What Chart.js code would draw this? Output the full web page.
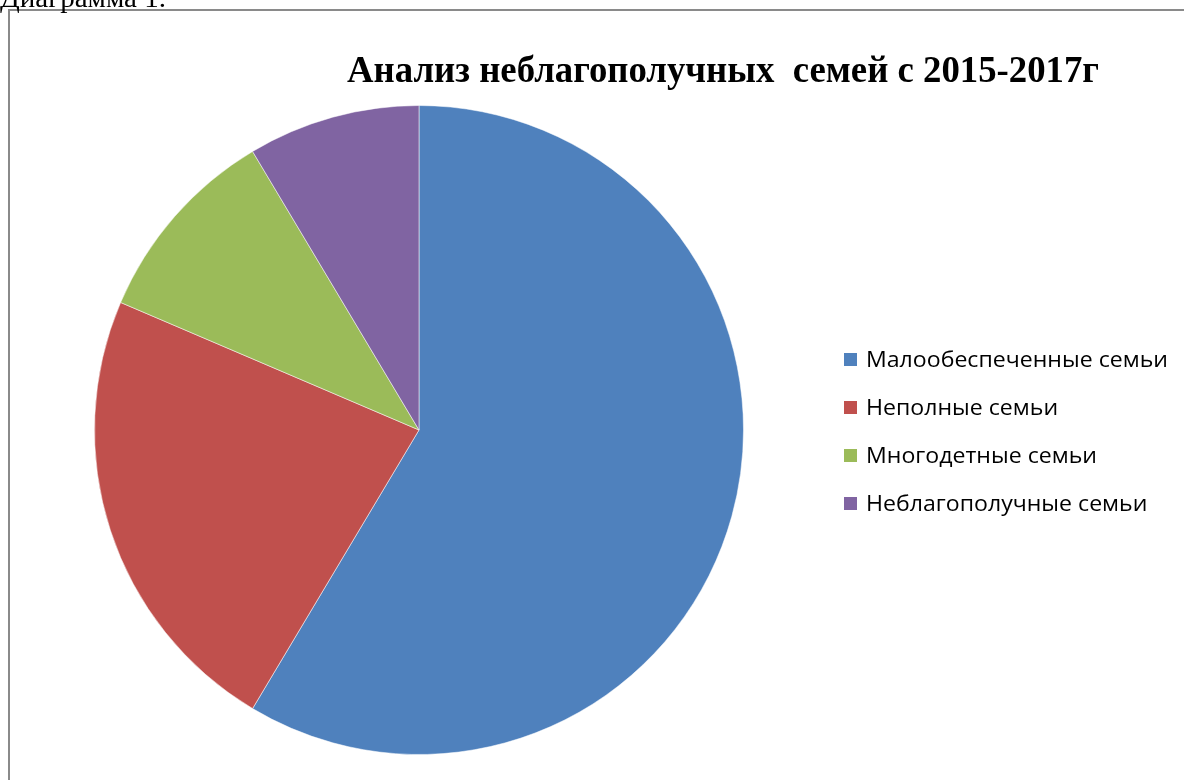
<!DOCTYPE html>
<html><head><meta charset="utf-8">
<script src="https://cdn.jsdelivr.net/npm/chart.js@4"></script>
<style>html,body{margin:0;padding:0;background:#fff;overflow:hidden}
#wrap{position:absolute;left:0;top:0;width:1184px;height:780px}
</style></head><body>
<div id="wrap"><canvas id="c" width="1184" height="780"></canvas></div>
<script>
const categories = ['Малообеспеченные семьи','Неполные семьи','Многодетные семьи','Неблагополучные семьи'];
const values = [41, 16, 7, 6];
const colors = ['#4F81BD','#C0504D','#9BBB59','#8064A2'];
const titleText = 'Анализ неблагополучных  семей с 2015-2017г';
const captionText = 'Диаграмма 1.';

function fitText(ctx, text, x, y, w) {
  const m = ctx.measureText(text).width;
  ctx.save(); ctx.translate(x, y); ctx.scale(w / m, 1); ctx.fillText(text, 0, 0); ctx.restore();
}

const decor = {
  id: 'decor',
  beforeDraw(chart) {
    const ctx = chart.ctx;
    ctx.save();
    ctx.fillStyle = '#fff'; ctx.fillRect(0, 0, chart.width, chart.height);
    ctx.strokeStyle = '#8a8a8a'; ctx.lineWidth = 2;
    ctx.beginPath(); ctx.moveTo(9, 800); ctx.lineTo(9, 10); ctx.lineTo(1200, 10); ctx.stroke();
    ctx.fillStyle = '#000'; ctx.textBaseline = 'alphabetic'; ctx.textAlign = 'left';
    ctx.font = '27px "Liberation Serif", "Times New Roman", serif';
    fitText(ctx, captionText, 0, 7, 166);
    ctx.font = 'bold 38px "Liberation Serif", "Times New Roman", serif';
    fitText(ctx, titleText, 347, 82, 752);
    ctx.restore();
  },
  afterDraw(chart) {
    const ctx = chart.ctx;
    const labels = chart.data.labels;
    const bg = chart.data.datasets[0].backgroundColor;
    ctx.save();
    ctx.font = '22px "Open Sans", "Noto Sans", sans-serif';
    ctx.textBaseline = 'alphabetic'; ctx.textAlign = 'left';
    const scale = 302 / ctx.measureText(labels[0]).width;
    labels.forEach((l, i) => {
      const cy = 359.5 + i * 48;
      ctx.fillStyle = bg[i];
      ctx.fillRect(844, cy - 6.5, 13, 13);
      ctx.fillStyle = '#000';
      ctx.save(); ctx.translate(866, cy + 7.5); ctx.scale(scale, 1); ctx.fillText(l, 0, 0); ctx.restore();
    });
    ctx.restore();
  }
};

new Chart(document.getElementById('c'), {
  type: 'pie',
  data: {
    labels: categories,
    datasets: [{ data: values, backgroundColor: colors, borderColor: 'rgba(255,255,255,0.5)', borderWidth: 1 }]
  },
  options: {
    responsive: false,
    animation: false,
    layout: { padding: { left: 94, right: 440, top: 105, bottom: 25 } },
    plugins: { legend: { display: false }, title: { display: false }, tooltip: { enabled: false } }
  },
  plugins: [decor]
});
</script>
</body></html>
